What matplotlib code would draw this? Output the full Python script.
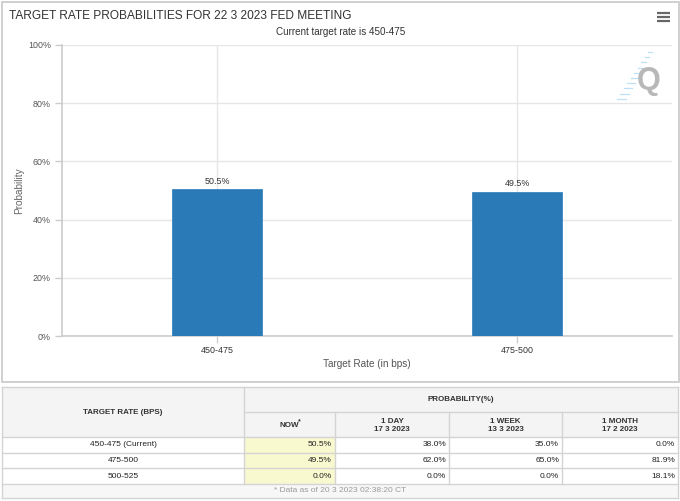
import matplotlib
matplotlib.use("Agg")
import matplotlib.pyplot as plt
from matplotlib.patches import Rectangle
from matplotlib.ticker import FuncFormatter

# ---- data ----
categories = ["450-475", "475-500"]
probabilities = [50.5, 49.5]
bar_labels = ["50.5%", "49.5%"]
y_ticks = [0, 20, 40, 60, 80, 100]

title = "TARGET RATE PROBABILITIES FOR 22 3 2023 FED MEETING"
subtitle = "Current target rate is 450-475"
x_title = "Target Rate (in bps)"
y_title = "Probability"

table_rate_header = "TARGET RATE (BPS)"
table_prob_header = "PROBABILITY(%)"
table_col_headers = ["NOW", "1 DAY\n17 3 2023", "1 WEEK\n13 3 2023", "1 MONTH\n17 2 2023"]
table_rows = ["450-475 (Current)", "475-500", "500-525"]
table_now = ["50.5%", "49.5%", "0.0%"]
table_1day = ["38.0%", "62.0%", "0.0%"]
table_1week = ["35.0%", "65.0%", "0.0%"]
table_1month = ["0.0%", "81.9%", "18.1%"]
table_footer = "* Data as of 20 3 2023 02:38:20 CT"

W, H = 680, 501
FONT = ["Liberation Sans", "DejaVu Sans"]
plt.rcParams["font.family"] = FONT

fig = plt.figure(figsize=(W / 100, H / 100), dpi=100)
fig.patch.set_facecolor("white")

# background / overlay axes in pixel coordinates
bg = fig.add_axes([0, 0, 1, 1])
bg.set_xlim(0, W)
bg.set_ylim(H, 0)
bg.axis("off")

# chart panel border
bg.add_patch(Rectangle((1.5, 1.5), 677, 380, fill=False, ec="#c8c8c8", lw=1.2))

bg.text(9, 16, title, fontsize=8.6, color="#333333", ha="left", va="center")
bg.text(341, 31.5, subtitle, fontsize=7.1, color="#333333", ha="center", va="center")

# hamburger menu
for yy in (13, 17, 21):
    bg.plot([657, 670], [yy, yy], color="#666666", lw=1.6, solid_capstyle="butt")

# watermark
for i in range(10):
    y0 = 52 + i * 5.2
    xc = 652 - i * 2.9
    bg.plot([xc - 4 - i * 0.6, xc], [y0, y0], color="#bfe0f4", lw=0.9)
bg.text(649, 81, "Q", fontsize=22, fontweight="bold", color="#b8b8b8",
        ha="center", va="center")

# ---- plot axes ----
L, R, T, B = 62, 672, 45, 336
ax = fig.add_axes([L / W, (H - B) / H, (R - L) / W, (B - T) / H])
ax.patch.set_alpha(0)
xs = list(range(len(categories)))
ax.bar(xs, probabilities, width=0.30, color="#2a7ab8", edgecolor="#2a7ab8",
       lw=0.5, zorder=3)
for x, v, lab in zip(xs, probabilities, bar_labels):
    ax.annotate(lab, (x, v), xytext=(0, 2.5), textcoords="offset points",
                ha="center", va="bottom", fontsize=6.4, color="#333333", zorder=4)

ax.set_xlim(-0.517, 1.517)
ax.set_ylim(0, 100)
ax.set_yticks(y_ticks)
ax.yaxis.set_major_formatter(FuncFormatter(lambda v, p: f"{v:.0f}%"))
ax.set_xticks(xs)
ax.set_xticklabels(categories)
ax.grid(True, axis="both", color="#e6e6e6", lw=1.0, zorder=0)
for s in ("top", "right"):
    ax.spines[s].set_visible(False)
for s in ("left", "bottom"):
    ax.spines[s].set_color("#cccccc")
    ax.spines[s].set_linewidth(1.2)
ax.tick_params(axis="y", length=5, width=1, color="#cccccc", labelsize=6.4,
               labelcolor="#555555", pad=3)
ax.tick_params(axis="x", length=5, width=1, color="#cccccc", labelsize=6.4,
               labelcolor="#333333", pad=2)
ax.set_xlabel(x_title, fontsize=7.2, color="#555555", labelpad=3)
ax.set_ylabel(y_title, fontsize=7.2, color="#666666", labelpad=3)

# ---- table ----
cols = [2, 244, 335, 449, 562, 678]
hdr1, hdr2, r0 = 387, 412, 437
row_edges = [437, 453, 468, 484]
foot_bot = 498
line_c = "#d4d4d4"
hdr_bg = "#f4f4f4"
now_bg = "#f9f9cf"
tfs = 6.0

bg.add_patch(Rectangle((cols[0], hdr1), cols[-1] - cols[0], r0 - hdr1, fc=hdr_bg, ec="none"))
for i in range(len(table_rows)):
    y0, y1 = row_edges[i], row_edges[i + 1]
    bg.add_patch(Rectangle((cols[0], y0), cols[-1] - cols[0], y1 - y0, fc="white", ec="none"))
    bg.add_patch(Rectangle((cols[1], y0), cols[2] - cols[1], y1 - y0, fc=now_bg, ec="none"))
bg.add_patch(Rectangle((cols[0], row_edges[-1]), cols[-1] - cols[0], foot_bot - row_edges[-1],
                       fc="#f7f7f7", ec="none"))


def hline(y, x0, x1):
    bg.plot([x0, x1], [y, y], color=line_c, lw=1.0)


def vline(x, y0, y1):
    bg.plot([x, x], [y0, y1], color=line_c, lw=1.0)


hline(hdr1, cols[0], cols[-1])
hline(hdr2, cols[1], cols[-1])
for y in row_edges:
    hline(y, cols[0], cols[-1])
hline(foot_bot, cols[0], cols[-1])
vline(cols[0], hdr1, foot_bot)
vline(cols[-1], hdr1, foot_bot)
vline(cols[1], hdr1, row_edges[-1])
for c in cols[2:-1]:
    vline(c, hdr2, row_edges[-1])

bg.text((cols[0] + cols[1]) / 2, (hdr1 + r0) / 2, table_rate_header, fontsize=5.8,
        fontweight="bold", color="#333333", ha="center", va="center")
bg.text((cols[1] + cols[-1]) / 2, (hdr1 + hdr2) / 2, table_prob_header, fontsize=5.8,
        fontweight="bold", color="#333333", ha="center", va="center")
for j, h in enumerate(table_col_headers):
    cx = (cols[j + 1] + cols[j + 2]) / 2
    bg.text(cx, (hdr2 + r0) / 2 + 1, h, fontsize=5.8, fontweight="bold", color="#333333",
            ha="center", va="center", linespacing=1.3)
bg.text((cols[1] + cols[2]) / 2 + 10, (hdr2 + r0) / 2 - 3, "*", fontsize=5, fontweight="bold",
        color="#333333", ha="center", va="center")

columns = [table_now, table_1day, table_1week, table_1month]
for i, lab in enumerate(table_rows):
    cy = (row_edges[i] + row_edges[i + 1]) / 2
    bg.text((cols[0] + cols[1]) / 2, cy, lab, fontsize=tfs, color="#222222",
            ha="center", va="center")
    for j, colvals in enumerate(columns):
        bg.text(cols[j + 2] - 3, cy, colvals[i], fontsize=tfs, color="#222222",
                ha="right", va="center")

bg.text((cols[0] + cols[-1]) / 2, (row_edges[-1] + foot_bot) / 2, table_footer,
        fontsize=tfs, color="#9a9a9a", ha="center", va="center")

fig.savefig("out.png", dpi=100, facecolor="white")
